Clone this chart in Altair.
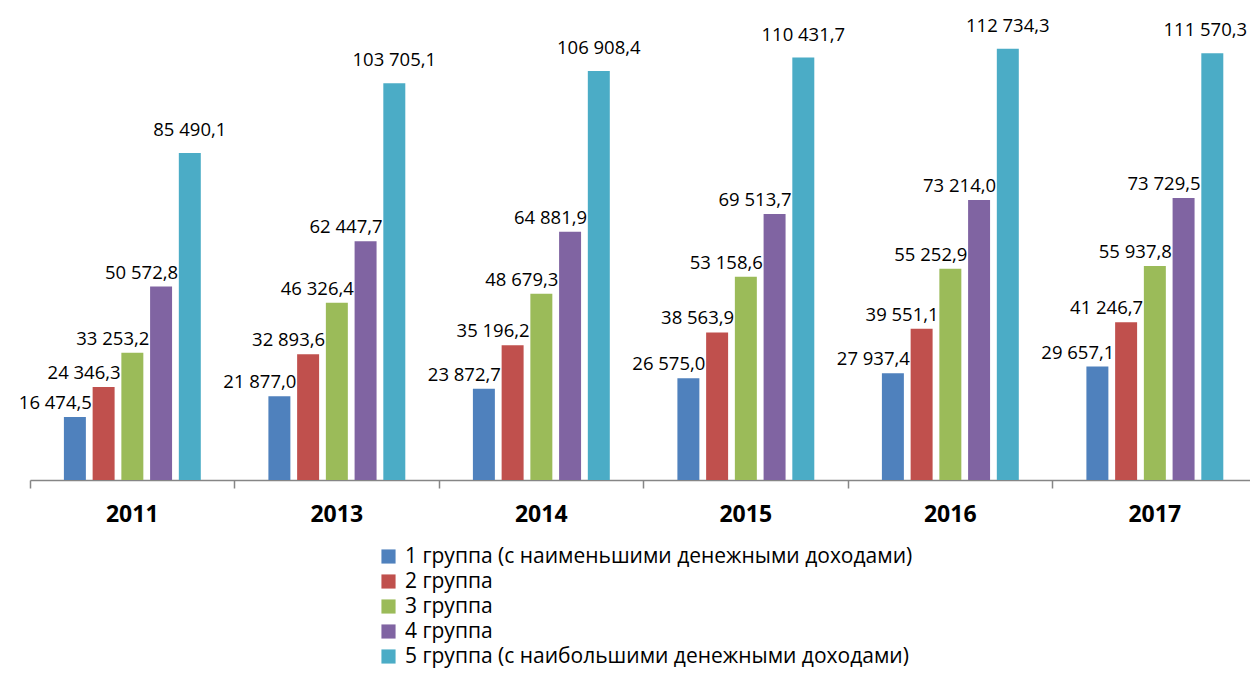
import altair as alt
import pandas as pd

years = ["2011", "2013", "2014", "2015", "2016", "2017"]
groups = [
    "1 группа (с наименьшими денежными доходами)",
    "2 группа",
    "3 группа",
    "4 группа",
    "5 группа (с наибольшими денежными доходами)",
]
g1 = [16474.5, 21877.0, 23872.7, 26575.0, 27937.4, 29657.1]
g2 = [24346.3, 32893.6, 35196.2, 38563.9, 39551.1, 41246.7]
g3 = [33253.2, 46326.4, 48679.3, 53158.6, 55252.9, 55937.8]
g4 = [50572.8, 62447.7, 64881.9, 69513.7, 73214.0, 73729.5]
g5 = [85490.1, 103705.1, 106908.4, 110431.7, 112734.3, 111570.3]
colors = ["#4F81BD", "#C0504D", "#9BBB59", "#8064A2", "#4BACC6"]

series = [g1, g2, g3, g4, g5]
rows = []
for gi, (g, vals) in enumerate(zip(groups, series)):
    for y, v in zip(years, vals):
        lab = f"{v:,.1f}".replace(",", " ").replace(".", ",")
        rows.append({"year": y, "group": g, "gi": gi, "value": v, "label": lab})
df = pd.DataFrame(rows)

FONT = "Open Sans"

x_enc = alt.X(
    "year:N",
    sort=years,
    title=None,
    scale=alt.Scale(range=[0, 1227], paddingInner=0, paddingOuter=0),
    axis=alt.Axis(
        bandPosition=0,
        labelAngle=0,
        labelFontSize=23,
        labelFontWeight="bold",
        labelFont=FONT,
        labelColor="#000000",
        labelPadding=15,
        tickSize=8,
        tickColor="#868686",
        tickWidth=1.5,
        domainColor="#868686",
        domainWidth=1.5,
        grid=False,
    ),
)
xo_enc = alt.XOffset(
    "group:N", sort=groups,
    scale=alt.Scale(range=[33.9, 170.8], paddingInner=0.235, paddingOuter=0),
)
y_enc = alt.Y(
    "value:Q",
    axis=None,
    scale=alt.Scale(domain=[0, 120000], nice=False, zero=True),
)

base = alt.Chart(df)

bars = base.mark_bar().encode(
    x=x_enc,
    xOffset=xo_enc,
    y=y_enc,
    color=alt.Color(
        "group:N",
        sort=groups,
        scale=alt.Scale(domain=groups, range=colors),
        legend=alt.Legend(
            title=None,
            orient="none",
            legendX=348,
            legendY=525,
            padding=0,
            direction="vertical",
            symbolType="square",
            symbolSize=200,
            symbolStrokeWidth=0,
            labelFontSize=21,
            labelFont=FONT,
            labelColor="#000000",
            labelOffset=6,
            rowPadding=3,
            labelLimit=800,
        ),
    ),
)

txt = dict(baseline="alphabetic", fontSize=18.5, font=FONT, color="#000000")

labels14 = base.transform_filter("datum.gi < 4").mark_text(
    align="right", dx=17, dy=-8, **txt
).encode(x=x_enc, xOffset=xo_enc, y=y_enc, text="label:N")

labels5 = base.transform_filter("datum.gi == 4 && datum.year != '2017'").mark_text(
    align="center", dy=-17, **txt
).encode(x=x_enc, xOffset=xo_enc, y=y_enc, text="label:N")

labels5_last = base.transform_filter("datum.gi == 4 && datum.year == '2017'").mark_text(
    align="center", dx=-7, dy=-17, **txt
).encode(x=x_enc, xOffset=xo_enc, y=y_enc, text="label:N")

chart = (
    alt.layer(bars, labels14, labels5, labels5_last)
    .properties(
        width=1219,
        height=459,
        autosize=alt.AutoSizeParams(type="none"),
        padding={"left": 22, "top": 13, "right": 1, "bottom": 189},
        background="#ffffff",
    )
    .configure_view(stroke=None)
)

chart.save("out.html", embed_options={"renderer": "svg", "actions": False})
